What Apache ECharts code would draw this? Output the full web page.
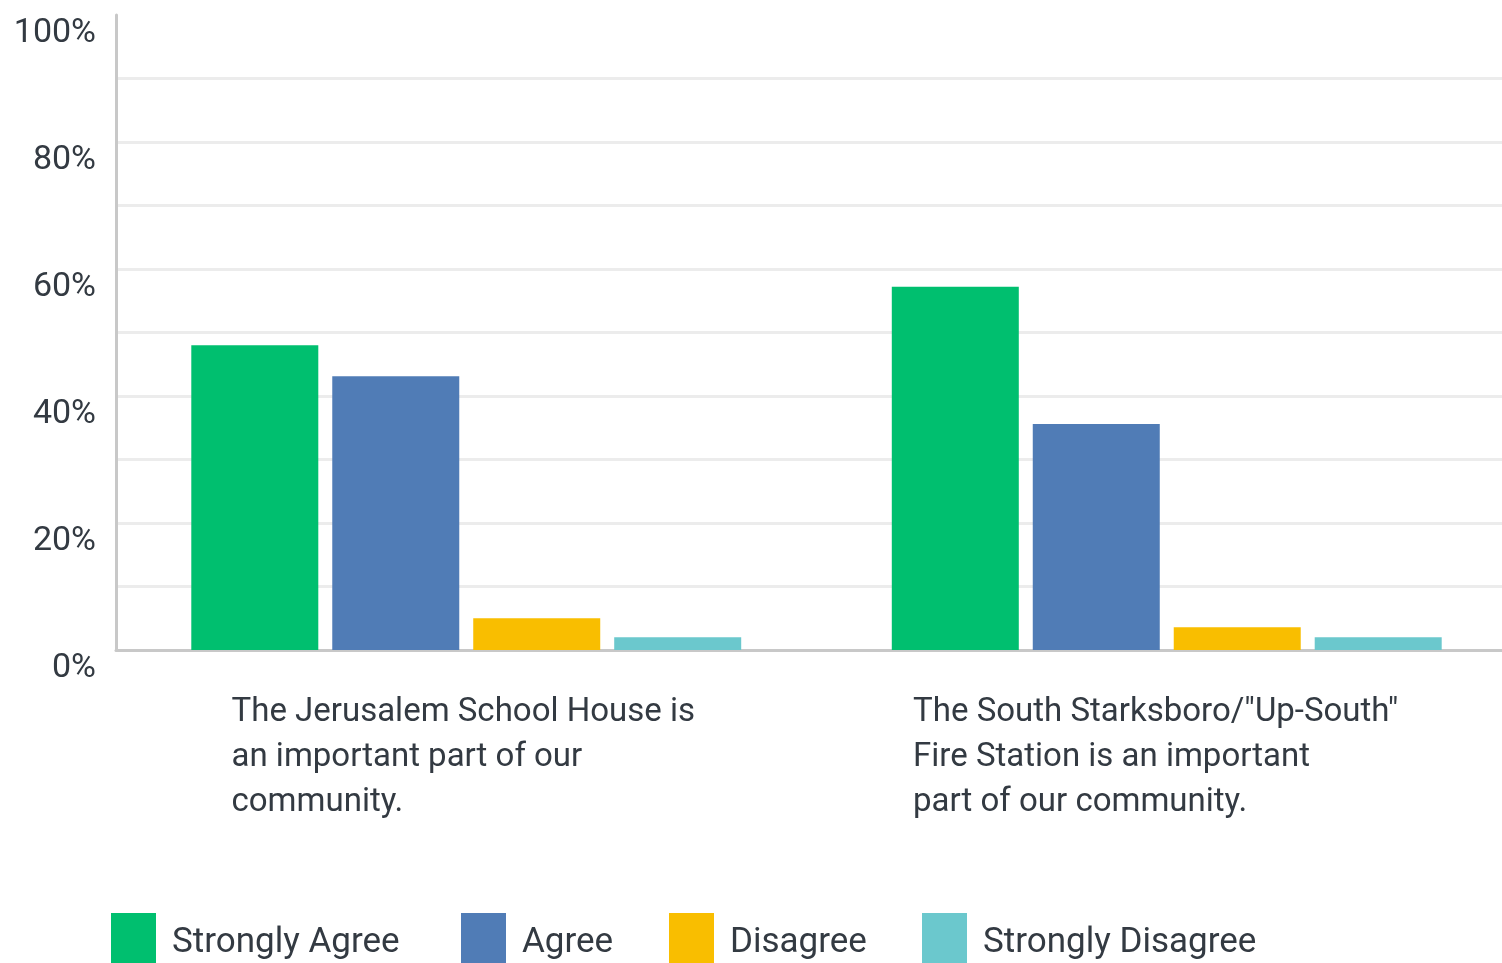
<!DOCTYPE html>
<html>
<head>
<meta charset="utf-8">
<script src="https://cdn.jsdelivr.net/npm/echarts@6/dist/echarts.min.js"></script>
<style>
  html, body { margin: 0; padding: 0; background: #fff; overflow: hidden; }
  #chart { width: 1517px; height: 963px; }
</style>
</head>
<body>
<div id="chart"></div>
<script>
let categories = [
  'The Jerusalem School House is\nan important part of our\ncommunity.',
  'The South Starksboro/"Up-South"\nFire Station is an important\npart of our community.'
]
let seriesNames = ['Strongly Agree', 'Agree', 'Disagree', 'Strongly Disagree']
let stronglyAgree = [48.0, 57.2]
let agree = [43.1, 35.6]
let disagree = [5.0, 3.6]
let stronglyDisagree = [2.0, 2.0]
let yTicks = [0, 20, 40, 60, 80, 100]

// plot runs a little past the right edge of the window, as in the original
let chart = echarts.init(document.getElementById('chart'))
let colors = ['#00bf6f', '#507cb6', '#f9be00', '#6bc8cd']
let textColor = '#333a42'
let font = 'Roboto'
let legendLeft = [111, 461, 669, 922]
let labelPad = [6, 22]
let values = [stronglyAgree, agree, disagree, stronglyDisagree]

let labelStyle = i => ({
  align: 'left',
  lineHeight: 45,
  fontSize: 33,
  fontFamily: font,
  color: textColor,
  padding: [0, labelPad[i], 0, 0]
})

chart.setOption({
  animation: false,
  color: colors,
  grid: { left: 116, right: 0, top: 15, bottom: 313, containLabel: false },
  legend: seriesNames.map((name, i) => ({
    data: [name],
    left: legendLeft[i],
    top: 913,
    padding: 0,
    itemWidth: 45,
    itemHeight: 60,
    icon: 'rect',
    selectedMode: false,
    textStyle: { color: textColor, fontSize: 35, fontFamily: font, padding: [0, 0, 0, 11] }
  })),
  xAxis: {
    type: 'category',
    data: categories,
    axisLine: { lineStyle: { color: '#c8c8c8', width: 3 } },
    axisTick: { show: false },
    axisLabel: {
      margin: 40,
      interval: 0,
      formatter: (v, i) => v.split('\n').map(s => '{l' + i + '|' + s + '}').join('\n'),
      rich: { l0: labelStyle(0), l1: labelStyle(1) }
    }
  },
  yAxis: {
    type: 'value',
    min: 0,
    max: 100,
    interval: 10,
    axisLine: { show: true, lineStyle: { color: '#c8c8c8', width: 3 } },
    axisTick: { show: false },
    splitLine: { showMaxLine: false, lineStyle: { color: '#ececec', width: 3 } },
    axisLabel: {
      margin: 20,
      fontSize: 34,
      fontFamily: font,
      color: textColor,
      verticalAlign: 'top',
      lineHeight: 36,
      formatter: v => yTicks.indexOf(v) >= 0 ? v + '%' : ''
    }
  },
  series: seriesNames.map((name, i) => ({
    name: name,
    type: 'bar',
    data: values[i],
    barWidth: 127,
    barGap: '11%'
  }))
})
</script>
</body>
</html>
